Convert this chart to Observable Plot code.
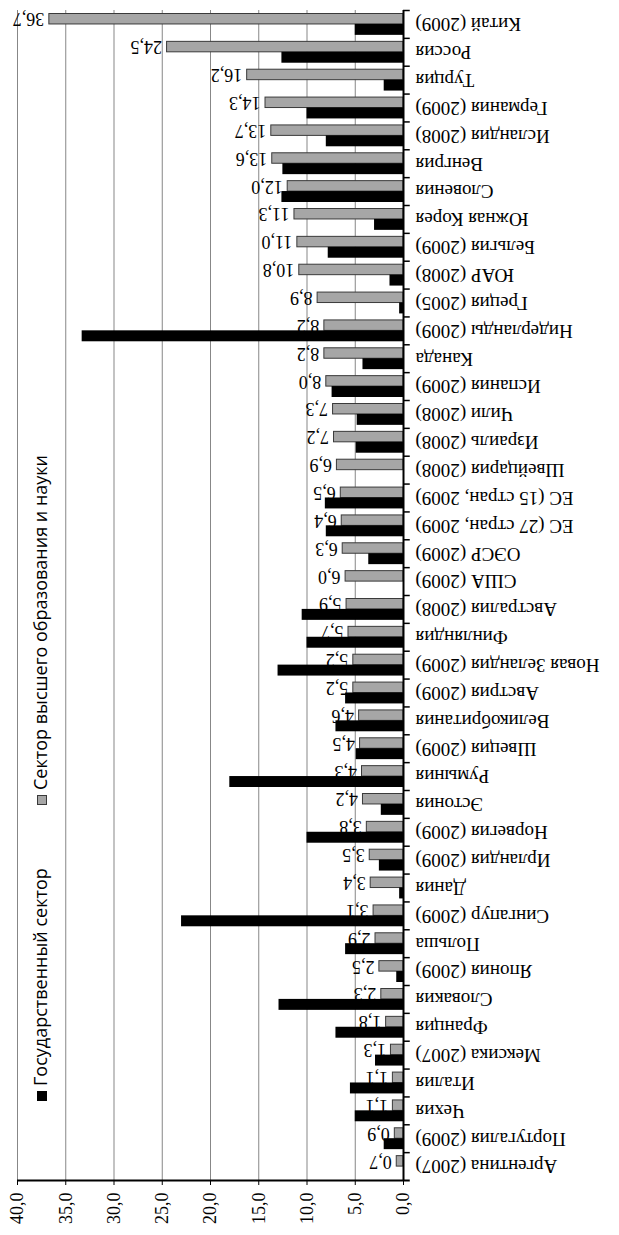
<!DOCTYPE html>
<html>
<head>
<meta charset="utf-8">
<script src="https://cdn.jsdelivr.net/npm/d3@7"></script>
<script src="https://cdn.jsdelivr.net/npm/@observablehq/plot@0.6"></script>
<style>
  body { margin: 0; background: #fff; }
  #wrap { position: relative; width: 619px; height: 1235px; overflow: hidden; }
  .leg { position: absolute; transform-origin: 0 0; transform: rotate(-90deg); white-space: nowrap;
         font-family: "Open Sans", sans-serif; font-size: 18px; line-height: 20px; color: #000; }
  .sw { display: inline-block; width: 10px; height: 10px; margin-right: 5px; vertical-align: 0px; box-sizing: border-box; }
</style>
</head>
<body>
<div id="wrap"></div>
<script>
// Categories, from the bottom of the chart (first) to the top (last)
const countries = [
  "Аргентина (2007)", "Португалия (2009)", "Чехия", "Италия", "Мексика (2007)",
  "Франция", "Словакия", "Япония (2009)", "Польша", "Сингапур (2009)",
  "Дания", "Ирландия (2009)", "Норвегия (2009)", "Эстония", "Румыния",
  "Швеция (2009)", "Великобритания", "Австрия (2009)", "Новая Зеландия (2009)", "Финляндия",
  "Австралия (2008)", "США (2009)", "ОЭСР (2009)", "ЕС (27 стран, 2009)", "ЕС (15 стран, 2009)",
  "Швейцария (2008)", "Израиль (2008)", "Чили (2008)", "Испания (2009)", "Канада",
  "Нидерланды (2009)", "Греция (2005)", "ЮАР (2008)", "Бельгия (2009)", "Южная Корея",
  "Словения", "Венгрия", "Исландия (2008)", "Германия (2009)", "Турция",
  "Россия", "Китай (2009)"
];
// Сектор высшего образования и науки (labelled values)
const higherEd = [
  0.7, 0.9, 1.1, 1.1, 1.3,
  1.8, 2.3, 2.5, 2.9, 3.1,
  3.4, 3.5, 3.8, 4.2, 4.3,
  4.5, 4.6, 5.2, 5.2, 5.7,
  5.9, 6.0, 6.3, 6.4, 6.5,
  6.9, 7.2, 7.3, 8.0, 8.2,
  8.2, 8.9, 10.8, 11.0, 11.3,
  12.0, 13.6, 13.7, 14.3, 16.2,
  24.5, 36.7
];
// Государственный сектор
const government = [
  0, 2.0, 5.0, 5.5, 2.9,
  7.0, 12.9, 0.7, 6.0, 23.0,
  0.4, 2.5, 10.0, 2.3, 18.0,
  4.9, 7.0, 6.0, 13.0, 10.0,
  10.5, 0, 3.6, 8.0, 8.1,
  0, 4.9, 4.8, 7.4, 4.2,
  33.3, 0.4, 1.4, 7.8, 3.0,
  12.6, 12.5, 8.0, 10.0, 2.0,
  12.6, 5.0
];
const xTicks = [0, 5, 10, 15, 20, 25, 30, 35, 40];
const seriesNames = ["Государственный сектор", "Сектор высшего образования и науки"];

const rows = countries.map((c, i) => ({country: c, gov: government[i], edu: higherEd[i]}));
const fmt = v => v.toFixed(1).replace(".", ",");

const W = 619, H = 1235, mT = 10, mB = 55, mL = 17, mR = 216;
const bw = (H - mT - mB) / countries.length;

const chart = Plot.plot({
  width: W, height: H,
  marginTop: mT, marginBottom: mB, marginLeft: mL, marginRight: mR,
  style: {fontFamily: "'Liberation Serif', 'Times New Roman', serif", fontSize: "18px", color: "#000", background: "#fff", overflow: "visible"},
  x: {domain: [0, 40], reverse: true, ticks: xTicks, tickFormat: fmt, tickRotate: -90, tickSize: 5, tickPadding: 7, label: null},
  y: {domain: countries.slice().reverse(), padding: 0, axis: null},
  marks: [
    Plot.ruleX(xTicks.filter(d => d > 0), {stroke: "#878787", strokeWidth: 1}),
    Plot.barX(rows, {y: "country", x: "edu", fill: "#a6a6a6", stroke: "#3a3a3a", strokeWidth: 1, insetTop: 3.5, insetBottom: 13.9}),
    Plot.barX(rows, {y: "country", x: "gov", fill: "#000", insetTop: 13.9, insetBottom: 3}),
    Plot.text(rows, {y: "country", x: "edu", text: d => fmt(d.edu), rotate: 180, textAnchor: "start", lineAnchor: "middle", dx: -5, dy: -5.3, fontSize: 18}),
    Plot.text(rows, {y: "country", x: () => 0, text: "country", rotate: 180, textAnchor: "end", lineAnchor: "middle", dx: 12, fontSize: 19}),
    Plot.ruleX([0], {stroke: "#000", strokeWidth: 2}),
    Plot.ruleY(countries, {y: d => d, x1: 0, x2: -0.7, dy: -bw / 2, stroke: "#000", strokeWidth: 1.5}),
    Plot.ruleY([countries[0]], {y: d => d, x1: -0.7, x2: 40, dy: bw / 2, stroke: "#000", strokeWidth: 2})
  ]
});

const wrap = document.getElementById("wrap");
wrap.appendChild(chart);

// Legend (rotated, inside the plot area)
const legendItems = [
  {name: seriesNames[0], fill: "#000", stroke: "#000", left: 30, top: 1101},
  {name: seriesNames[1], fill: "#a6a6a6", stroke: "#3a3a3a", left: 30, top: 805}
];
for (const it of legendItems) {
  const d = document.createElement("div");
  d.className = "leg";
  d.style.left = it.left + "px";
  d.style.top = it.top + "px";
  const sw = document.createElement("span");
  sw.className = "sw";
  sw.style.background = it.fill;
  sw.style.border = "1px solid " + it.stroke;
  d.appendChild(sw);
  d.appendChild(document.createTextNode(it.name));
  wrap.appendChild(d);
}
</script>
</body>
</html>
